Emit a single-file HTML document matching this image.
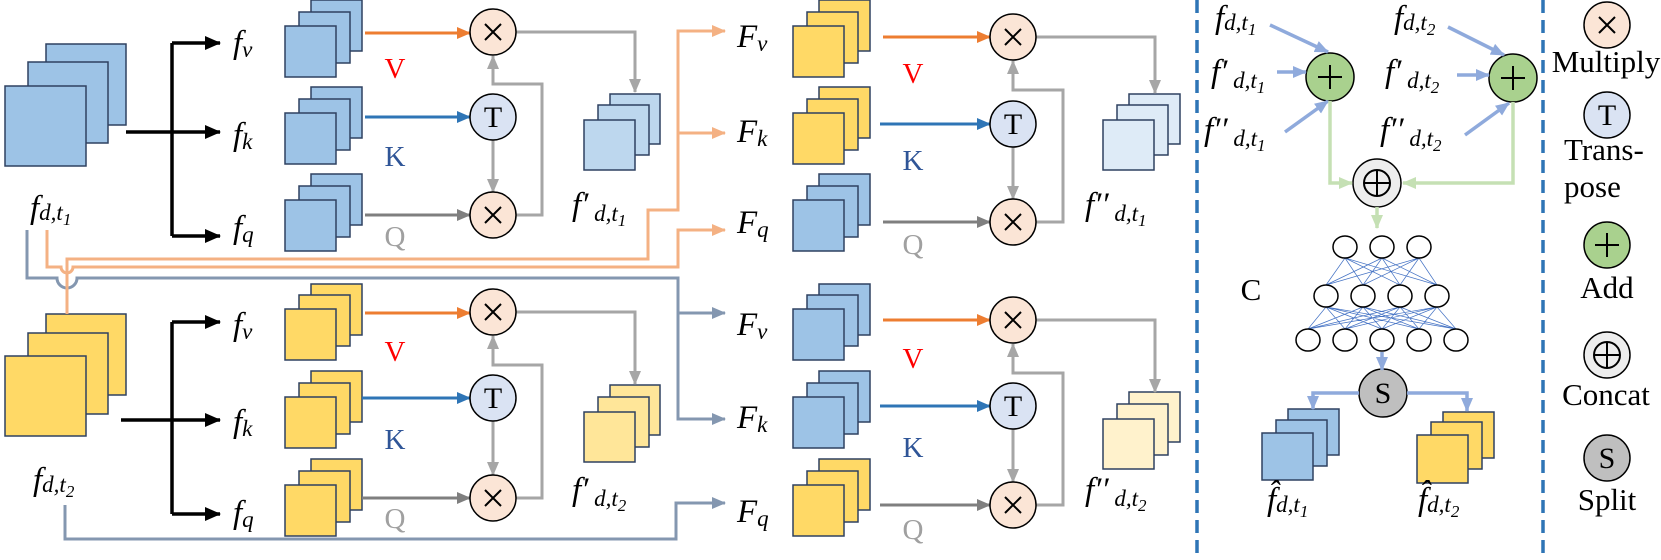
<!DOCTYPE html>
<html><head><meta charset="utf-8"><style>
html,body{margin:0;padding:0;background:#fff}
svg{display:block}
text{font-family:"Liberation Serif",serif}
.m{font-style:italic;font-size:33px}
.s{font-size:23px}
.ss{font-size:17px}
</style></head><body>
<svg width="1661" height="560" viewBox="0 0 1661 560" xmlns="http://www.w3.org/2000/svg">
<defs>
<marker id="aK" markerUnits="userSpaceOnUse" markerWidth="16" markerHeight="14" refX="15" refY="7" orient="auto"><path d="M0,0 L16,7 L0,14 z" fill="#000"/></marker>
<marker id="aO" markerUnits="userSpaceOnUse" markerWidth="14" markerHeight="12" refX="13" refY="6" orient="auto"><path d="M0,0 L14,6 L0,12 z" fill="#ed7d31"/></marker>
<marker id="aB" markerUnits="userSpaceOnUse" markerWidth="14" markerHeight="12" refX="13" refY="6" orient="auto"><path d="M0,0 L14,6 L0,12 z" fill="#2e75b6"/></marker>
<marker id="aD" markerUnits="userSpaceOnUse" markerWidth="14" markerHeight="12" refX="13" refY="6" orient="auto"><path d="M0,0 L14,6 L0,12 z" fill="#7f7f7f"/></marker>
<marker id="aG" markerUnits="userSpaceOnUse" markerWidth="14" markerHeight="12" refX="13" refY="6" orient="auto"><path d="M0,0 L14,6 L0,12 z" fill="#a6a6a6"/></marker>
<marker id="aP" markerUnits="userSpaceOnUse" markerWidth="14" markerHeight="12" refX="13" refY="6" orient="auto"><path d="M0,0 L14,6 L0,12 z" fill="#f4b183"/></marker>
<marker id="aS" markerUnits="userSpaceOnUse" markerWidth="14" markerHeight="12" refX="13" refY="6" orient="auto"><path d="M0,0 L14,6 L0,12 z" fill="#8497b0"/></marker>
<marker id="aL" markerUnits="userSpaceOnUse" markerWidth="14" markerHeight="12" refX="13" refY="6" orient="auto"><path d="M0,0 L14,6 L0,12 z" fill="#8faadc"/></marker>
<marker id="aE" markerUnits="userSpaceOnUse" markerWidth="14" markerHeight="12" refX="13" refY="6" orient="auto"><path d="M0,0 L14,6 L0,12 z" fill="#c5e0b4"/></marker>
</defs>

<g stroke="#2f4160" stroke-width="1.5">
<g fill="#9dc3e6"><rect x="46" y="44" width="80" height="81"/><rect x="28" y="62" width="80" height="81"/><rect x="5" y="86" width="81" height="80"/></g>
<g fill="#ffd966"><rect x="46" y="314" width="80" height="81"/><rect x="28" y="333" width="80" height="81"/><rect x="5" y="356" width="81" height="80"/></g>
<g fill="#9dc3e6">
<rect x="311" y="0" width="51" height="51"/><rect x="299" y="12" width="51" height="51"/><rect x="285" y="26" width="51" height="51"/>
<rect x="311" y="87" width="51" height="51"/><rect x="299" y="99" width="51" height="51"/><rect x="285" y="113" width="51" height="51"/>
<rect x="311" y="174" width="51" height="51"/><rect x="299" y="186" width="51" height="51"/><rect x="285" y="200" width="51" height="51"/>
</g>
<g fill="#ffd966">
<rect x="311" y="284" width="51" height="51"/><rect x="299" y="295" width="51" height="51"/><rect x="285" y="309" width="51" height="51"/>
<rect x="311" y="371" width="51" height="51"/><rect x="299" y="383" width="51" height="51"/><rect x="285" y="397" width="51" height="51"/>
<rect x="311" y="459" width="51" height="51"/><rect x="299" y="471" width="51" height="51"/><rect x="285" y="485" width="51" height="51"/>
</g>
<g fill="#ffd966">
<rect x="819" y="0" width="51" height="51"/><rect x="807" y="12" width="51" height="51"/><rect x="793" y="26" width="51" height="51"/>
<rect x="819" y="87" width="51" height="51"/><rect x="807" y="99" width="51" height="51"/><rect x="793" y="113" width="51" height="51"/>
<rect x="819" y="459" width="51" height="51"/><rect x="807" y="471" width="51" height="51"/><rect x="793" y="485" width="51" height="51"/>
</g>
<g fill="#9dc3e6">
<rect x="819" y="174" width="51" height="51"/><rect x="807" y="186" width="51" height="51"/><rect x="793" y="200" width="51" height="51"/>
<rect x="819" y="284" width="51" height="51"/><rect x="807" y="295" width="51" height="51"/><rect x="793" y="309" width="51" height="51"/>
<rect x="819" y="371" width="51" height="51"/><rect x="807" y="383" width="51" height="51"/><rect x="793" y="397" width="51" height="51"/>
</g>
<g fill="#bdd7ee"><rect x="610" y="94" width="50" height="50"/><rect x="598" y="105" width="51" height="50"/><rect x="584" y="120" width="51" height="50"/></g>
<g fill="#ffe699"><rect x="610" y="385" width="50" height="50"/><rect x="598" y="397" width="51" height="50"/><rect x="584" y="412" width="51" height="50"/></g>
<g fill="#deebf7"><rect x="1129" y="94" width="51" height="50"/><rect x="1117" y="105" width="51" height="50"/><rect x="1103" y="120" width="51" height="50"/></g>
<g fill="#fff2cc"><rect x="1129" y="392" width="51" height="50"/><rect x="1117" y="404" width="51" height="51"/><rect x="1103" y="419" width="51" height="50"/></g>
<g fill="#9dc3e6"><rect x="1288" y="409" width="51" height="46"/><rect x="1276" y="420" width="51" height="46"/><rect x="1262" y="433" width="51" height="47"/></g>
<g fill="#ffd966"><rect x="1443" y="412" width="51" height="46"/><rect x="1431" y="422" width="51" height="47"/><rect x="1417" y="435" width="51" height="48"/></g>
</g>

<g stroke="#000" stroke-width="3.5" fill="none">
<path d="M126,132 H172 M172,43 V236 M121,420 H172 M172,322 V514"/>
<path d="M172,43 H220" marker-end="url(#aK)"/><path d="M172,132 H220" marker-end="url(#aK)"/><path d="M172,236 H220" marker-end="url(#aK)"/>
<path d="M172,322 H220" marker-end="url(#aK)"/><path d="M172,420 H220" marker-end="url(#aK)"/><path d="M172,514 H220" marker-end="url(#aK)"/>
</g>

<g stroke-width="3" fill="none">
<path d="M365,33 H470" stroke="#ed7d31" marker-end="url(#aO)"/>
<path d="M365,117 H470" stroke="#2e75b6" marker-end="url(#aB)"/>
<path d="M365,215 H470" stroke="#7f7f7f" marker-end="url(#aD)"/>
<path d="M365,313 H470" stroke="#ed7d31" marker-end="url(#aO)"/>
<path d="M362,398 H470" stroke="#2e75b6" marker-end="url(#aB)"/>
<path d="M362,498 H470" stroke="#7f7f7f" marker-end="url(#aD)"/>
<path d="M883,37 H990" stroke="#ed7d31" marker-end="url(#aO)"/>
<path d="M880,124 H990" stroke="#2e75b6" marker-end="url(#aB)"/>
<path d="M883,222 H990" stroke="#7f7f7f" marker-end="url(#aD)"/>
<path d="M883,320 H990" stroke="#ed7d31" marker-end="url(#aO)"/>
<path d="M880,406 H990" stroke="#2e75b6" marker-end="url(#aB)"/>
<path d="M880,505 H990" stroke="#7f7f7f" marker-end="url(#aD)"/>
</g>
<g stroke="#a6a6a6" stroke-width="3" fill="none">
<path d="M493,140 V192" marker-end="url(#aG)"/>
<path d="M516,215 H542 V84 H493 V56" marker-end="url(#aG)"/>
<path d="M516,32 H635 V92" marker-end="url(#aG)"/>
<path d="M493,421 V475" marker-end="url(#aG)"/>
<path d="M516,498 H542 V365 H493 V336" marker-end="url(#aG)"/>
<path d="M516,312 H635 V384" marker-end="url(#aG)"/>
<path d="M1013,147 V199" marker-end="url(#aG)"/>
<path d="M1036,222 H1063 V90 H1013 V61" marker-end="url(#aG)"/>
<path d="M1036,37 H1155 V93" marker-end="url(#aG)"/>
<path d="M1013,429 V482" marker-end="url(#aG)"/>
<path d="M1036,505 H1063 V373 H1013 V344" marker-end="url(#aG)"/>
<path d="M1036,320 H1155 V392" marker-end="url(#aG)"/>
</g>

<g fill="none" stroke-width="3">
<path d="M27,230 V278 H57 A10,10 0 0 0 77,278 H678 V419 H725" stroke="#8497b0" marker-end="url(#aS)"/>
<path d="M678,313 H725" stroke="#8497b0" marker-end="url(#aS)"/>
<path d="M65,505 V539 H676 V503 H725" stroke="#8497b0" marker-end="url(#aS)"/>
<path d="M67,314 V259 H648 V210 H678 V31 H725" stroke="#f4b183" marker-end="url(#aP)"/>
<path d="M678,133 H725" stroke="#f4b183" marker-end="url(#aP)"/>
<path d="M47,230 V267 H61 A6,6 0 0 0 73,267 H678 V230 H725" stroke="#f4b183" marker-end="url(#aP)"/>
</g>

<g stroke="#000" stroke-width="1.5">
<g fill="#fbe5d6">
<circle cx="493" cy="32" r="23"/><circle cx="493" cy="215" r="23"/><circle cx="493" cy="312" r="23"/><circle cx="493" cy="498" r="23"/>
<circle cx="1013" cy="37" r="23"/><circle cx="1013" cy="222" r="23"/><circle cx="1013" cy="320" r="23"/><circle cx="1013" cy="505" r="23"/>
<circle cx="1607" cy="25" r="23"/>
</g>
<g fill="#dae3f3"><circle cx="493" cy="117" r="23"/><circle cx="493" cy="398" r="23"/><circle cx="1013" cy="124" r="23"/><circle cx="1013" cy="406" r="23"/><circle cx="1607" cy="115" r="23"/></g>
<g fill="#a9d18e"><circle cx="1330" cy="77" r="24"/><circle cx="1513" cy="78" r="24"/><circle cx="1607" cy="245" r="23"/></g>
<g fill="#ededed"><circle cx="1377" cy="183" r="24"/><circle cx="1607" cy="355" r="23"/></g>
<g fill="#bfbfbf"><circle cx="1383" cy="393" r="24"/><circle cx="1607" cy="458" r="23"/></g>
</g>
<g stroke="#000" stroke-width="2">
<path d="M485,24 l16,16 m0,-16 l-16,16"/><path d="M485,207 l16,16 m0,-16 l-16,16"/>
<path d="M485,304 l16,16 m0,-16 l-16,16"/><path d="M485,490 l16,16 m0,-16 l-16,16"/>
<path d="M1005,29 l16,16 m0,-16 l-16,16"/><path d="M1005,214 l16,16 m0,-16 l-16,16"/>
<path d="M1005,312 l16,16 m0,-16 l-16,16"/><path d="M1005,497 l16,16 m0,-16 l-16,16"/>
<path d="M1599,17 l16,16 m0,-16 l-16,16"/>
<path d="M1318,77 h24 m-12,-12 v24"/><path d="M1501,78 h24 m-12,-12 v24"/><path d="M1595,245 h24 m-12,-12 v24"/>
<circle cx="1377" cy="183" r="13" fill="none"/><path d="M1364,183 h26 m-13,-13 v26"/>
<circle cx="1607" cy="355" r="13" fill="none"/><path d="M1594,355 h26 m-13,-13 v26"/>
</g>
<g font-size="30" text-anchor="middle" fill="#000">
<text x="493" y="127">T</text><text x="493" y="408">T</text><text x="1013" y="134">T</text><text x="1013" y="416">T</text><text x="1607" y="125">T</text>
<text x="1383" y="403">S</text><text x="1607" y="468">S</text>
</g>

<g font-size="29" text-anchor="middle">
<text x="395" y="78" fill="#ff0000">V</text><text x="395" y="166" fill="#2f5597">K</text><text x="395" y="246" fill="#a0a0a0">Q</text>
<text x="395" y="361" fill="#ff0000">V</text><text x="395" y="449" fill="#2f5597">K</text><text x="395" y="528" fill="#a0a0a0">Q</text>
<text x="913" y="83" fill="#ff0000">V</text><text x="913" y="170" fill="#2f5597">K</text><text x="913" y="254" fill="#a0a0a0">Q</text>
<text x="913" y="368" fill="#ff0000">V</text><text x="913" y="457" fill="#2f5597">K</text><text x="913" y="539" fill="#a0a0a0">Q</text>
</g>

<g class="m">
<text x="233" y="53">f<tspan class="s" dy="4">v</tspan></text>
<text x="233" y="145">f<tspan class="s" dy="4">k</tspan></text>
<text x="233" y="238">f<tspan class="s" dy="4">q</tspan></text>
<text x="233" y="335">f<tspan class="s" dy="4">v</tspan></text>
<text x="233" y="432">f<tspan class="s" dy="4">k</tspan></text>
<text x="233" y="523">f<tspan class="s" dy="4">q</tspan></text>
<text x="30" y="218">f<tspan class="s" dy="2">d,t</tspan><tspan class="ss" dy="5">1</tspan></text>
<text x="33" y="490">f<tspan class="s" dy="2">d,t</tspan><tspan class="ss" dy="5">2</tspan></text>
<text x="737" y="47">F<tspan class="s" dy="4">v</tspan></text>
<text x="737" y="142">F<tspan class="s" dy="4">k</tspan></text>
<text x="737" y="233">F<tspan class="s" dy="4">q</tspan></text>
<text x="737" y="335">F<tspan class="s" dy="4">v</tspan></text>
<text x="737" y="428">F<tspan class="s" dy="4">k</tspan></text>
<text x="737" y="522">F<tspan class="s" dy="4">q</tspan></text>
<text x="572" y="215">f′<tspan class="s" dy="6"> d,t</tspan><tspan class="ss" dy="5">1</tspan></text>
<text x="572" y="500">f′<tspan class="s" dy="6"> d,t</tspan><tspan class="ss" dy="5">2</tspan></text>
<text x="1085" y="215">f′′<tspan class="s" dy="6"> d,t</tspan><tspan class="ss" dy="5">1</tspan></text>
<text x="1085" y="500">f′′<tspan class="s" dy="6"> d,t</tspan><tspan class="ss" dy="5">2</tspan></text>
<text x="1215" y="28">f<tspan class="s" dy="2">d,t</tspan><tspan class="ss" dy="5">1</tspan></text>
<text x="1211" y="82">f′<tspan class="s" dy="6"> d,t</tspan><tspan class="ss" dy="5">1</tspan></text>
<text x="1204" y="140">f′′<tspan class="s" dy="6"> d,t</tspan><tspan class="ss" dy="5">1</tspan></text>
<text x="1394" y="28">f<tspan class="s" dy="2">d,t</tspan><tspan class="ss" dy="5">2</tspan></text>
<text x="1385" y="82">f′<tspan class="s" dy="6"> d,t</tspan><tspan class="ss" dy="5">2</tspan></text>
<text x="1380" y="140">f′′<tspan class="s" dy="6"> d,t</tspan><tspan class="ss" dy="5">2</tspan></text>
<text x="1267" y="510">f̂<tspan class="s" dy="2">d,t</tspan><tspan class="ss" dy="5">1</tspan></text>
<text x="1418" y="510">f̂<tspan class="s" dy="2">d,t</tspan><tspan class="ss" dy="5">2</tspan></text>
</g>

<g stroke="#2e75b6" stroke-width="3.5" stroke-dasharray="13,7">
<line x1="1197" y1="0" x2="1197" y2="560"/><line x1="1543" y1="0" x2="1543" y2="560"/>
</g>

<g stroke="#8faadc" stroke-width="3.5" fill="none">
<path d="M1270,25 L1328,52" marker-end="url(#aL)"/>
<path d="M1277,72 H1306" marker-end="url(#aL)"/>
<path d="M1285,132 L1328,101" marker-end="url(#aL)"/>
<path d="M1448,27 L1504,55" marker-end="url(#aL)"/>
<path d="M1457,75 H1489" marker-end="url(#aL)"/>
<path d="M1465,135 L1509,103" marker-end="url(#aL)"/>
<path d="M1382,352 V370" marker-end="url(#aL)"/>
<path d="M1359,393 H1313 V409" marker-end="url(#aL)"/>
<path d="M1407,393 H1467 V411" marker-end="url(#aL)"/>
</g>
<g stroke="#c5e0b4" stroke-width="3.5" fill="none">
<path d="M1330,101 V183 H1352" marker-end="url(#aE)"/>
<path d="M1513,102 V183 H1403" marker-end="url(#aE)"/>
<path d="M1377,207 V228" marker-end="url(#aE)"/>
</g>

<g stroke="#4472c4" stroke-width="0.7">
<path d="M1345,258 L1326,285 M1345,258 L1363,285 M1345,258 L1400,285 M1345,258 L1437,285
M1382,258 L1326,285 M1382,258 L1363,285 M1382,258 L1400,285 M1382,258 L1437,285
M1419,258 L1326,285 M1419,258 L1363,285 M1419,258 L1400,285 M1419,258 L1437,285"/>
<path d="M1326,307 L1308,329 M1326,307 L1345,329 M1326,307 L1382,329 M1326,307 L1419,329 M1326,307 L1456,329
M1363,307 L1308,329 M1363,307 L1345,329 M1363,307 L1382,329 M1363,307 L1419,329 M1363,307 L1456,329
M1400,307 L1308,329 M1400,307 L1345,329 M1400,307 L1382,329 M1400,307 L1419,329 M1400,307 L1456,329
M1437,307 L1308,329 M1437,307 L1345,329 M1437,307 L1382,329 M1437,307 L1419,329 M1437,307 L1456,329"/>
</g>
<g fill="#fff" stroke="#000" stroke-width="1.5">
<ellipse cx="1345" cy="247" rx="12" ry="11"/><ellipse cx="1382" cy="247" rx="12" ry="11"/><ellipse cx="1419" cy="247" rx="12" ry="11"/>
<ellipse cx="1326" cy="296" rx="12" ry="11"/><ellipse cx="1363" cy="296" rx="12" ry="11"/><ellipse cx="1400" cy="296" rx="12" ry="11"/><ellipse cx="1437" cy="296" rx="12" ry="11"/>
<ellipse cx="1308" cy="340" rx="12" ry="11"/><ellipse cx="1345" cy="340" rx="12" ry="11"/><ellipse cx="1382" cy="340" rx="12" ry="11"/><ellipse cx="1419" cy="340" rx="12" ry="11"/><ellipse cx="1456" cy="340" rx="12" ry="11"/>
</g>
<text x="1251" y="300" font-size="31" text-anchor="middle">C</text>

<g font-size="31" fill="#000">
<text x="1606" y="72" text-anchor="middle">Multiply</text>
<text x="1564" y="160">Trans-</text>
<text x="1564" y="197">pose</text>
<text x="1607" y="298" text-anchor="middle">Add</text>
<text x="1606" y="405" text-anchor="middle">Concat</text>
<text x="1607" y="510" text-anchor="middle">Split</text>
</g>
</svg>
</body></html>
